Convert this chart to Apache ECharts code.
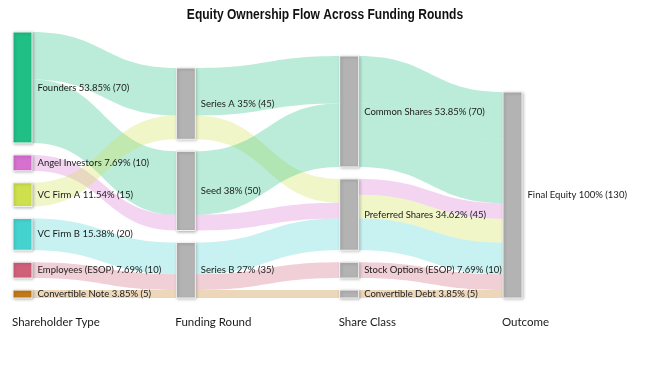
<!DOCTYPE html>
<html>
<head>
<meta charset="utf-8">
<script src="https://cdn.jsdelivr.net/npm/echarts@6/dist/echarts.min.js"></script>
<style>
  html, body { margin: 0; padding: 0; background: #fff; }
  #chart { width: 650px; height: 366px; }
</style>
</head>
<body>
<div id="chart"></div>
<script>
// ---- data ----
const nodeNames = ['Founders', 'Angel Investors', 'VC Firm A', 'VC Firm B', 'Employees (ESOP)', 'Convertible Note',
  'Series A', 'Seed', 'Series B',
  'Common Shares', 'Preferred Shares', 'Stock Options (ESOP)', 'Convertible Debt',
  'Final Equity'];
const nodeStage = [0, 0, 0, 0, 0, 0, 1, 1, 1, 2, 2, 2, 2, 3];
const nodePercents = ['53.85%', '7.69%', '11.54%', '15.38%', '7.69%', '3.85%',
  '35%', '38%', '27%',
  '53.85%', '34.62%', '7.69%', '3.85%',
  '100%'];
const nodeColors = ['#1fbf86', '#d870d0', '#cfe04d', '#45d3d0', '#d0607a', '#c27a1a',
  '#b3b3b3', '#b3b3b3', '#b3b3b3',
  '#b3b3b3', '#b3b3b3', '#b3b3b3', '#b3b3b3',
  '#b3b3b3'];
const linkSources = ['Founders', 'Founders', 'Angel Investors', 'VC Firm A', 'VC Firm B', 'Employees (ESOP)', 'Convertible Note',
  'Series A', 'Series A', 'Seed', 'Seed', 'Series B', 'Series B', 'Series B',
  'Common Shares', 'Common Shares', 'Preferred Shares', 'Preferred Shares', 'Preferred Shares', 'Stock Options (ESOP)', 'Convertible Debt'];
const linkTargets = ['Series A', 'Seed', 'Seed', 'Series A', 'Series B', 'Series B', 'Series B',
  'Common Shares', 'Preferred Shares', 'Common Shares', 'Preferred Shares', 'Preferred Shares', 'Stock Options (ESOP)', 'Convertible Debt',
  'Final Equity', 'Final Equity', 'Final Equity', 'Final Equity', 'Final Equity', 'Final Equity', 'Final Equity'];
const linkValues = [30, 40, 10, 15, 20, 10, 5,
  30, 15, 40, 10, 20, 10, 5,
  30, 40, 10, 15, 20, 10, 5];
// origin shareholder of each flow (colour key)
const linkOrigins = ['Founders', 'Founders', 'Angel Investors', 'VC Firm A', 'VC Firm B', 'Employees (ESOP)', 'Convertible Note',
  'Founders', 'VC Firm A', 'Founders', 'Angel Investors', 'VC Firm B', 'Employees (ESOP)', 'Convertible Note',
  'Founders', 'Founders', 'Angel Investors', 'VC Firm A', 'VC Firm B', 'Employees (ESOP)', 'Convertible Note'];
const stageLabels = ['Shareholder Type', 'Funding Round', 'Share Class', 'Outcome'];

// ---- layout / style ----
const W = 650, H = 366;
const SK_LEFT = 13, SK_RIGHT = 128, SK_TOP = 32, SK_BOTTOM = 68, NODE_W = 19, GAP = 12;
const LABEL_FONT = 'Lato, "Liberation Sans", sans-serif';
const step = (W - SK_LEFT - SK_RIGHT - NODE_W) / 3;

const colorOf = {}, pctOf = {};
nodeNames.forEach((n, i) => { colorOf[n] = nodeColors[i]; pctOf[n] = nodePercents[i]; });

// column sums (from links) to bottom-align every column like the reference
const inSum = {}, outSum = {};
linkSources.forEach((s, i) => {
  outSum[s] = (outSum[s] || 0) + linkValues[i];
  inSum[linkTargets[i]] = (inSum[linkTargets[i]] || 0) + linkValues[i];
});
const colSum = [0, 0, 0, 0], colCount = [0, 0, 0, 0];
nodeNames.forEach((n, i) => {
  colSum[nodeStage[i]] += Math.max(inSum[n] || 0, outSum[n] || 0);
  colCount[nodeStage[i]] += 1;
});
const innerH = H - SK_TOP - SK_BOTTOM;
const ky = Math.min(...colSum.map((s, c) => (innerH - (colCount[c] - 1) * GAP) / s));
// invisible spacer nodes that push columns 1..3 to the bottom edge
const spacers = [];
for (let c = 1; c < 4; c++) {
  const v = (innerH - colCount[c] * GAP) / ky - colSum[c] - 0.01;
  if (v > 0.01) {
    spacers.push({
      name: '__spacer' + c, value: v, depth: c, silent: true,
      itemStyle: { color: 'rgba(0,0,0,0)', borderWidth: 0, shadowBlur: 0, shadowColor: 'rgba(0,0,0,0)' },
      label: { show: false }
    });
  }
}

const nodes = spacers.concat(nodeNames.map((n, i) => ({
  name: n, depth: nodeStage[i],
  itemStyle: { color: nodeColors[i] }
})));
const links = linkSources.map((s, i) => ({
  source: s, target: linkTargets[i], value: linkValues[i],
  lineStyle: { color: colorOf[linkOrigins[i]], opacity: 0.3 }
}));

const chart = echarts.init(document.getElementById('chart'), null, { renderer: 'canvas' });
chart.setOption({
  animation: false,
  backgroundColor: '#fff',
  graphic: [{
    type: 'text', x: W / 2, y: 15, scaleX: 0.86, scaleY: 1,
    style: {
      text: 'Equity Ownership Flow Across Funding Rounds',
      font: 'bold 14px "Liberation Sans", Arial, sans-serif', fill: '#111',
      align: 'center', verticalAlign: 'middle'
    }
  }].concat(stageLabels.map((t, i) => ({
    type: 'text',
    x: SK_LEFT - 1 + step * i, y: 322,
    style: { text: t, font: '11.5px ' + LABEL_FONT, fill: '#1a1a1a', align: 'left', verticalAlign: 'middle' }
  }))),
  series: [{
    type: 'sankey',
    left: SK_LEFT, right: SK_RIGHT, top: SK_TOP, bottom: SK_BOTTOM,
    nodeWidth: NODE_W,
    nodeGap: GAP,
    nodeAlign: 'justify',
    layoutIterations: 0,
    draggable: false,
    emphasis: { disabled: true },
    data: nodes,
    links: links,
    itemStyle: {
      borderColor: '#f2f2f2', borderWidth: 1,
      shadowBlur: 3, shadowColor: 'rgba(0,0,0,0.25)', shadowOffsetX: 1, shadowOffsetY: 1
    },
    lineStyle: { curveness: 0.5 },
    label: {
      position: 'right', distance: 5,
      fontFamily: LABEL_FONT, fontSize: 9.5, color: '#1a1a1a',
      formatter: p => p.name + ' ' + pctOf[p.name] + ' (' + p.value + ')'
    }
  }]
});
</script>
</body>
</html>
